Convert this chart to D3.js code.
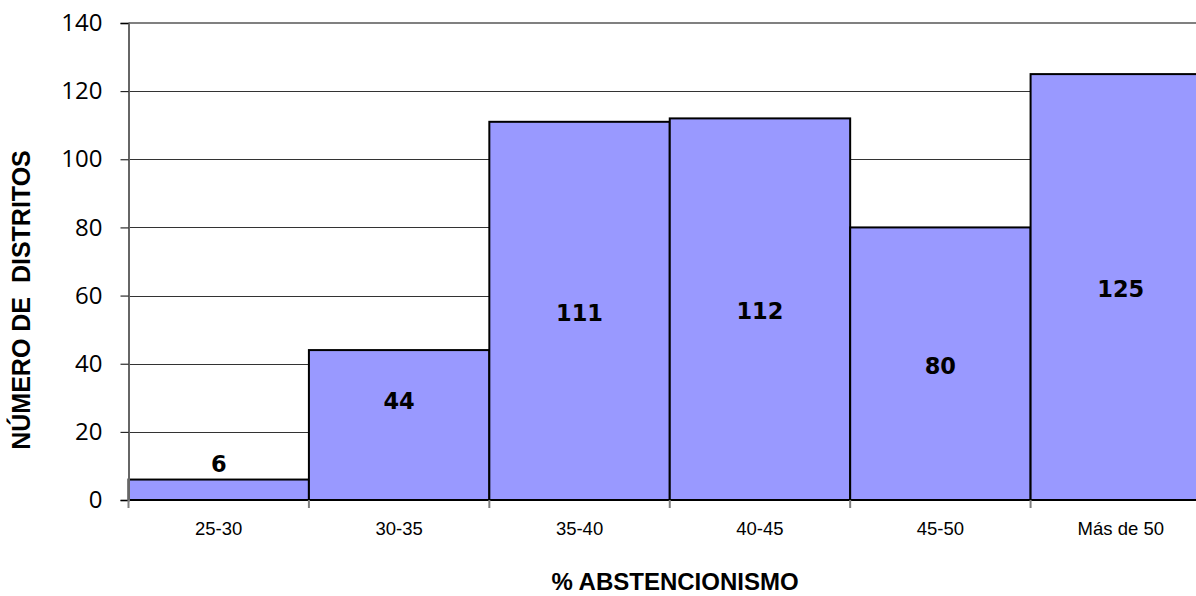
<html>
<head>
  <style>
    body { margin: 0; background: #fff; }
    svg { display: block; }
  </style>
  <script src="https://d3js.org/d3.v7.min.js"></script>
</head>
<body>
  <svg></svg>
  <script>
    // data
    var bins = ["25-30", "30-35", "35-40", "40-45", "45-50", "Más de 50"]
    var counts = [6, 44, 111, 112, 80, 125]
    var yTicks = [0, 20, 40, 60, 80, 100, 120, 140]

    var w = 1196, h = 596
    var padLeft = 128.5, padTop = 23, plotBottom = 500, plotRight = 1211

    var svg = d3.select("svg").attr("width", w).attr("height", h)

    var x = d3.scaleBand().domain(bins).range([padLeft, plotRight]).padding(0)
    var y = d3.scaleLinear().domain([0, 140]).range([plotBottom, padTop])

    // gridlines
    svg.append("g").selectAll("line")
      .data(yTicks.slice(1, -1))
      .enter().append("line")
      .attr("x1", padLeft).attr("x2", w)
      .attr("y1", function(d) { return Math.round(y(d)) + 0.5 })
      .attr("y2", function(d) { return Math.round(y(d)) + 0.5 })
      .attr("stroke", "#333").attr("stroke-width", 1)

    // top border of plot area
    svg.append("line")
      .attr("x1", padLeft).attr("x2", w).attr("y1", padTop).attr("y2", padTop)
      .attr("stroke", "#808080").attr("stroke-width", 2)

    // bars
    svg.append("g").selectAll("rect")
      .data(counts)
      .enter().append("rect")
      .attr("x", function(d, i) { return x(bins[i]) })
      .attr("y", function(d) { return y(d) })
      .attr("width", x.bandwidth())
      .attr("height", function(d) { return plotBottom - y(d) })
      .attr("fill", "#9999FF")
      .attr("stroke", "#000")
      .attr("stroke-width", 2)

    // y axis
    var yAxis = d3.axisLeft(y).tickValues(yTicks).tickSize(8).tickPadding(18)
    var gy = svg.append("g").attr("transform", "translate(" + padLeft + ",0)").call(yAxis)
    gy.select(".domain").attr("stroke", "#666").attr("stroke-width", 2)
    gy.selectAll(".tick line").attr("stroke", "#000")
    gy.selectAll("text")
      .style("font-family", "'Open Sans', 'Noto Sans', sans-serif")
      .style("font-size", "24px").attr("fill", "#000")

    // x axis: ticks at bin boundaries
    var edges = bins.map(function(b) { return x(b) })
    svg.append("g").selectAll("line")
      .data(edges)
      .enter().append("line")
      .attr("x1", function(d) { return d }).attr("x2", function(d) { return d })
      .attr("y1", plotBottom).attr("y2", plotBottom + 8)
      .attr("stroke", "#808080").attr("stroke-width", 2)

    svg.append("g").selectAll("text")
      .data(bins)
      .enter().append("text")
      .text(function(d) { return d })
      .attr("x", function(d) { return x(d) + x.bandwidth() / 2 })
      .attr("y", 535)
      .attr("text-anchor", "middle")
      .style("font-family", "'Liberation Sans', Arial, sans-serif")
      .style("font-size", "18.5px")

    // value labels (small bars: above, short bars: near the top, else centred)
    svg.append("g").selectAll("text")
      .data(counts)
      .enter().append("text")
      .text(function(d) { return d })
      .attr("x", function(d, i) { return x(bins[i]) + x.bandwidth() / 2 })
      .attr("y", function(d) {
        if (d < 20) return y(d) - 8
        if (d < 50) return y(d) + 59
        return (y(d) + plotBottom) / 2 + 10
      })
      .attr("text-anchor", "middle")
      .style("font-family", "'DejaVu Sans', sans-serif")
      .style("font-weight", "bold")
      .style("font-size", "22.5px")

    // axis titles
    svg.append("text")
      .text("% ABSTENCIONISMO")
      .attr("x", 675).attr("y", 590)
      .attr("text-anchor", "middle")
      .style("font-family", "'Liberation Sans', Arial, sans-serif")
      .style("font-weight", "bold")
      .style("font-size", "24px")

    svg.append("text")
      .text("NÚMERO DE  DISTRITOS")
      .attr("transform", "translate(30,300) rotate(-90)")
      .attr("text-anchor", "middle")
      .attr("xml:space", "preserve")
      .style("white-space", "pre")
      .style("font-family", "'Liberation Sans', Arial, sans-serif")
      .style("font-weight", "bold")
      .style("font-size", "25px")
  </script>
</body>
</html>
